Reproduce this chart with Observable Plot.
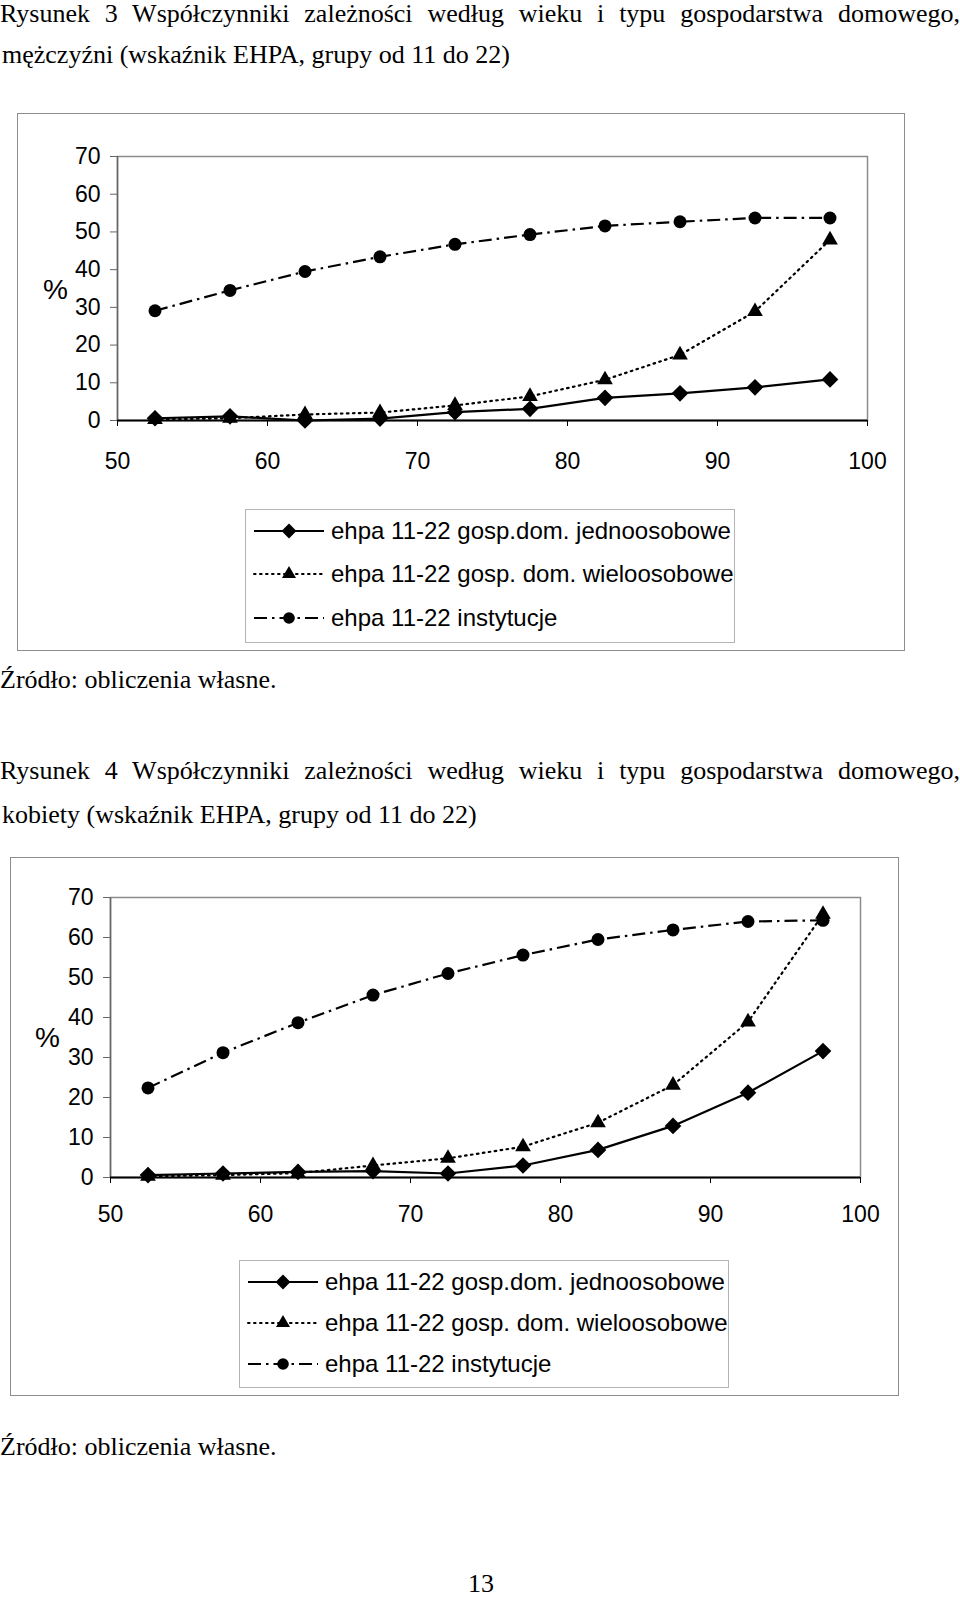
<!DOCTYPE html>
<html>
<head>
<meta charset="utf-8">
<script src="https://cdn.jsdelivr.net/npm/d3@7"></script>
<script src="https://cdn.jsdelivr.net/npm/@observablehq/plot@0.6"></script>
<style>
  html, body { margin: 0; padding: 0; background: #fff; }
  #page { position: relative; width: 960px; height: 1597px; overflow: hidden; color: #000;
          font-family: "Liberation Serif", "Times New Roman", serif; }
  .t { position: absolute; left: 0; font-size: 26px; line-height: 26px; white-space: nowrap; }
  .just { width: 960px; text-align: justify; text-align-last: justify; white-space: normal; }
  .frame { position: absolute; border: 1.5px solid #8c8c8c; box-sizing: border-box; }
  .chart { position: absolute; }
  .pct { position: absolute; font-family: "Liberation Sans", Arial, sans-serif; font-size: 28px; line-height: 28px; }
  .legend { position: absolute; border: 1px solid #b4b4b4; box-sizing: border-box; background: #fff;
            font-family: "Liberation Sans", Arial, sans-serif; font-size: 24px; }
  .row { position: absolute; left: 7px; display: flex; align-items: center; height: 30px; white-space: nowrap; }
  .row svg { margin-right: 6px; }
</style>
</head>
<body>
<div id="page"></div>
<script>
// ---------- data ----------
const ages = [52.5, 57.5, 62.5, 67.5, 72.5, 77.5, 82.5, 87.5, 92.5, 97.5];
const seriesNames = [
  "ehpa 11-22 gosp.dom. jednoosobowe",
  "ehpa 11-22 gosp. dom. wieloosobowe",
  "ehpa 11-22 instytucje"
];
// men (Rysunek 3)
const menSingle = [0.6, 1.1, 0.0, 0.5, 2.2, 3.1, 6.0, 7.2, 8.8, 10.9];
const menMulti  = [0.3, 0.6, 1.6, 2.1, 4.0, 6.4, 10.8, 17.4, 28.9, 47.9];
const menInst   = [29.1, 34.5, 39.5, 43.4, 46.7, 49.3, 51.6, 52.7, 53.7, 53.7];
// women (Rysunek 4)
const womenSingle = [0.6, 1.0, 1.4, 1.6, 1.0, 3.0, 6.9, 12.9, 21.2, 31.6];
const womenMulti  = [0.3, 0.6, 1.1, 3.0, 4.8, 7.7, 13.7, 23.1, 38.9, 65.8];
const womenInst   = [22.4, 31.2, 38.7, 45.6, 51.0, 55.6, 59.5, 61.9, 64.0, 64.3];
const xTicks = [50, 60, 70, 80, 90, 100];
const yTicks = [0, 10, 20, 30, 40, 50, 60, 70];
const title3 = ["Rysunek 3 Współczynniki zależności według wieku i typu gospodarstwa domowego,",
                "mężczyźni (wskaźnik EHPA, grupy od 11 do 22)"];
const title4 = ["Rysunek 4 Współczynniki zależności według wieku i typu gospodarstwa domowego,",
                "kobiety (wskaźnik EHPA, grupy od 11 do 22)"];
const sourceText = "Źródło: obliczenia własne.";
const pageNumber = "13";
const yAxisLabel = "%";

// ---------- styles per series ----------
const styles = [
  {dash: null,            symbol: "diamond2",  r: 7.5},
  {dash: "1.6,4.4",       symbol: "triangle2", r: 7.5},
  {dash: "13,5,2.5,5",    symbol: "circle",    r: 6.5}
];

const page = document.getElementById("page");

function addText(txt, cls, left, baseline, extra) {
  const d = document.createElement("div");
  d.className = cls;
  d.textContent = txt;
  d.style.left = left + "px";
  d.style.top = (baseline - 0.8375 * 26) + "px";
  if (extra) Object.assign(d.style, extra);
  page.appendChild(d);
  return d;
}

function buildRows(vals) {
  const rows = [];
  vals.forEach((arr, s) => arr.forEach((v, i) => rows.push({age: ages[i], value: v, series: seriesNames[s], s})));
  return rows;
}

function makeChart(cfg) {
  const rows = buildRows(cfg.values);
  const marks = [
    Plot.frame({stroke: "#8c8c8c", strokeWidth: 1.5}),
    Plot.ruleX([50], {stroke: "#666", strokeWidth: 1.5}),
    Plot.axisY({ticks: yTicks, tickSize: 7, tickPadding: 10, fontSize: 23, label: null, tickFormat: d => String(d), stroke: "#666"}),
    Plot.axisX({ticks: xTicks, tickSize: 6, tickPadding: cfg.xPad, fontSize: 23, label: null, tickFormat: d => String(d), stroke: "#000"}),
    Plot.ruleY([0], {stroke: "#000", strokeWidth: 2})
  ];
  styles.forEach((st, s) => {
    const sub = rows.filter(r => r.s === s);
    marks.push(Plot.line(sub, {x: "age", y: "value", stroke: "#000", strokeWidth: 2.2,
      strokeDasharray: st.dash, strokeLinecap: s === 1 ? "round" : "butt"}));
  });
  styles.forEach((st, s) => {
    const sub = rows.filter(r => r.s === s);
    marks.push(Plot.dot(sub, {x: "age", y: "value", symbol: () => st.symbol, r: st.r, fill: "#000", stroke: "none"}));
  });
  const svg = Plot.plot({
    width: cfg.width, height: cfg.height,
    marginLeft: cfg.ml, marginRight: cfg.mr, marginTop: cfg.mt, marginBottom: cfg.mb,
    x: {domain: [50, 100]},
    y: {domain: [0, 70]},
    symbol: {type: "identity"},
    style: {fontFamily: "'Liberation Sans', Arial, sans-serif", fontSize: "23px", background: "transparent", overflow: "visible", color: "#000"},
    marks
  });
  const wrap = document.createElement("div");
  wrap.className = "chart";
  wrap.style.left = cfg.left + "px";
  wrap.style.top = cfg.top + "px";
  wrap.appendChild(svg);
  return wrap;
}

function legendSwatch(s) {
  const ns = "http://www.w3.org/2000/svg";
  const svg = document.createElementNS(ns, "svg");
  svg.setAttribute("width", 72); svg.setAttribute("height", 20);
  const line = document.createElementNS(ns, "line");
  line.setAttribute("x1", 1); line.setAttribute("x2", 71);
  line.setAttribute("y1", 10); line.setAttribute("y2", 10);
  line.setAttribute("stroke", "#000"); line.setAttribute("stroke-width", 2);
  if (styles[s].dash) line.setAttribute("stroke-dasharray", styles[s].dash);
  if (s === 1) line.setAttribute("stroke-linecap", "round");
  svg.appendChild(line);
  const sym = {diamond2: d3.symbolDiamond2, triangle2: d3.symbolTriangle2, circle: d3.symbolCircle}[styles[s].symbol];
  const p = document.createElementNS(ns, "path");
  p.setAttribute("d", d3.symbol(sym, Math.PI * styles[s].r * styles[s].r * 0.8)());
  p.setAttribute("transform", "translate(36,10)");
  svg.appendChild(p);
  return svg;
}

function addLegend(left, top, w, h, rowCenters) {
  const lg = document.createElement("div");
  lg.className = "legend";
  Object.assign(lg.style, {left: left + "px", top: top + "px", width: w + "px", height: h + "px"});
  seriesNames.forEach((name, s) => {
    const r = document.createElement("div");
    r.className = "row";
    r.style.top = (rowCenters[s] - top - 15) + "px";
    r.appendChild(legendSwatch(s));
    const sp = document.createElement("span");
    sp.textContent = name;
    r.appendChild(sp);
    lg.appendChild(r);
  });
  page.appendChild(lg);
}

function addFrame(l, t, r, b) {
  const f = document.createElement("div");
  f.className = "frame";
  Object.assign(f.style, {left: l + "px", top: t + "px", width: (r - l) + "px", height: (b - t) + "px"});
  page.appendChild(f);
}

function addPct(cx, cy) {
  const d = document.createElement("div");
  d.className = "pct";
  d.textContent = yAxisLabel;
  d.style.left = (cx - 12) + "px";
  d.style.top = (cy - 14) + "px";
  page.appendChild(d);
}

// ---------- Figure 3 ----------
addText(title3[0], "t just", 0, 22.5);
addText(title3[1], "t", 2, 64);
addFrame(17, 113, 905, 651);
page.appendChild(makeChart({left: 17, top: 113, width: 888, height: 380, ml: 100, mr: 38, mt: 43, mb: 73,
  xPad: 26, values: [menSingle, menMulti, menInst]}));
addPct(55, 290);
addLegend(245, 509, 490, 134, [530, 573, 617]);
addText(sourceText, "t", 0, 689);

// ---------- Figure 4 ----------
addText(title4[0], "t just", 0, 780);
addText(title4[1], "t", 2, 824);
addFrame(10, 857, 899, 1396);
page.appendChild(makeChart({left: 10, top: 857, width: 889, height: 393, ml: 100, mr: 39, mt: 40, mb: 73,
  xPad: 22, values: [womenSingle, womenMulti, womenInst]}));
addPct(47, 1038);
addLegend(239, 1260, 490, 128, [1281, 1322, 1363]);
addText(sourceText, "t", 0, 1456);

addText(pageNumber, "t", 468, 1593);
</script>
</body>
</html>
